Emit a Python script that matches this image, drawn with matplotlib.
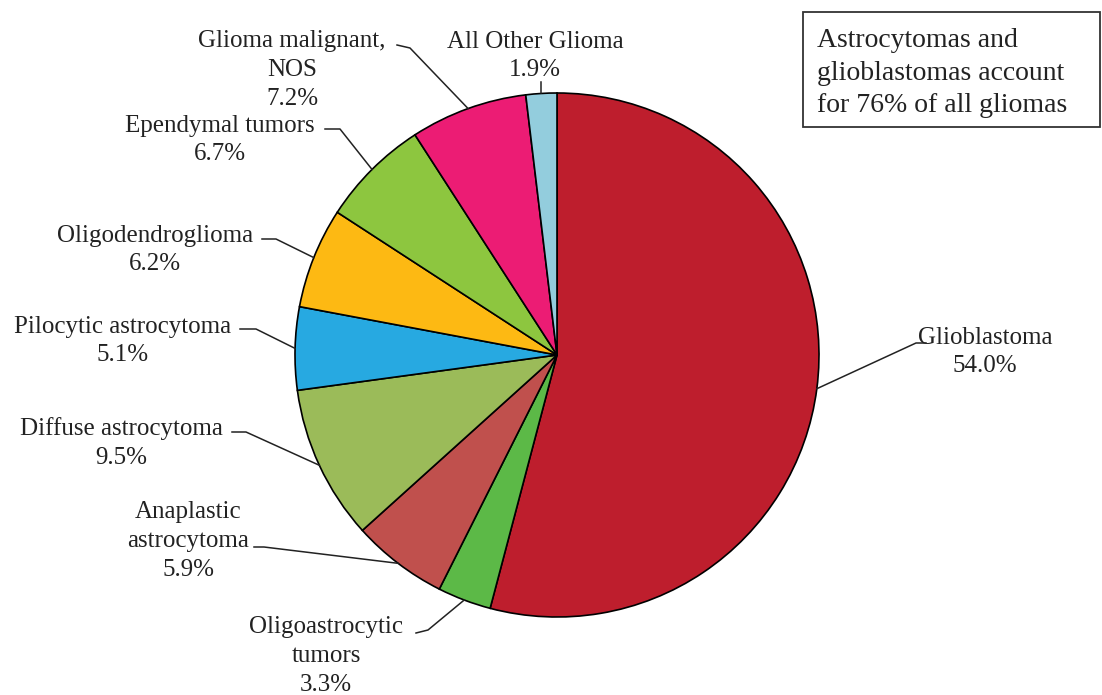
import numpy as np
import matplotlib.pyplot as plt
from matplotlib.patches import Rectangle

# Glioma subtypes, share of all gliomas (%)
labels = ['Glioblastoma', 'Oligoastrocytic\ntumors', 'Anaplastic\nastrocytoma',
          'Diffuse astrocytoma', 'Pilocytic astrocytoma', 'Oligodendroglioma',
          'Ependymal tumors', 'Glioma malignant,\nNOS', 'All Other Glioma']
shares = [54.0, 3.3, 5.9, 9.5, 5.1, 6.2, 6.7, 7.2, 1.9]
colors = ['#BE1E2D', '#5CB947', '#C0504D', '#9BBB59', '#27A9E1',
          '#FDB913', '#8DC63F', '#EC1C74', '#93CDDD']

W, H = 1102, 695
plt.rcParams['font.family'] = ['Liberation Serif', 'DejaVu Serif']

fig = plt.figure(figsize=(W / 100, H / 100), dpi=100)
ax = fig.add_axes([0, 0, 1, 1])

cx, cy, r = 557, H - 355, 262
wedges, _ = ax.pie(shares, colors=colors, startangle=90, counterclock=False,
                   center=(cx, cy), radius=r,
                   wedgeprops=dict(edgecolor='black', linewidth=1.2))

ax.set_xlim(0, W)
ax.set_ylim(0, H)
ax.set_aspect('equal')
ax.axis('off')

# label centre (px, from top) and leader elbow points (px, from top)
label_pos = [(985, 352), (326, 656), (188, 541), (121, 443), (123, 341),
             (155, 250), (220, 140), (292, 70), (535, 56)]
elbows = [[(926, 343), (916, 343)],
          [(416, 633), (428, 630)],
          [(254, 547), (264, 547)],
          [(232, 432), (246, 432)],
          [(240, 329), (256, 329)],
          [(262, 239), (276, 239)],
          [(325, 129), (340, 129)],
          [(397, 45), (410, 48)],
          [(538, 82)]]

for lab, val, w, (tx, ty), pts in zip(labels, shares, wedges, label_pos, elbows):
    ang = np.deg2rad((w.theta1 + w.theta2) / 2)
    ex, ey = cx + r * np.cos(ang), cy + r * np.sin(ang)
    xs = [p[0] for p in pts] + [ex]
    ys = [H - p[1] for p in pts] + [ey]
    if lab == 'All Other Glioma':
        xs[0] = ex
    ax.plot(xs, ys, color='#222222', linewidth=1.1)
    ax.text(tx, H - ty, f'{lab}\n{val:.1f}%', ha='center', va='center',
            fontsize=18, color='#222222', linespacing=1.4)

# summary note box
ax.add_patch(Rectangle((803, H - 127), 297, 115, facecolor='white',
                       edgecolor='#333333', linewidth=1.3))
ax.text(817, H - 73, 'Astrocytomas and\nglioblastomas account\nfor 76% of all gliomas',
        ha='left', va='center', fontsize=20, color='#222222', linespacing=1.38)

fig.savefig('out.png', dpi=100)
